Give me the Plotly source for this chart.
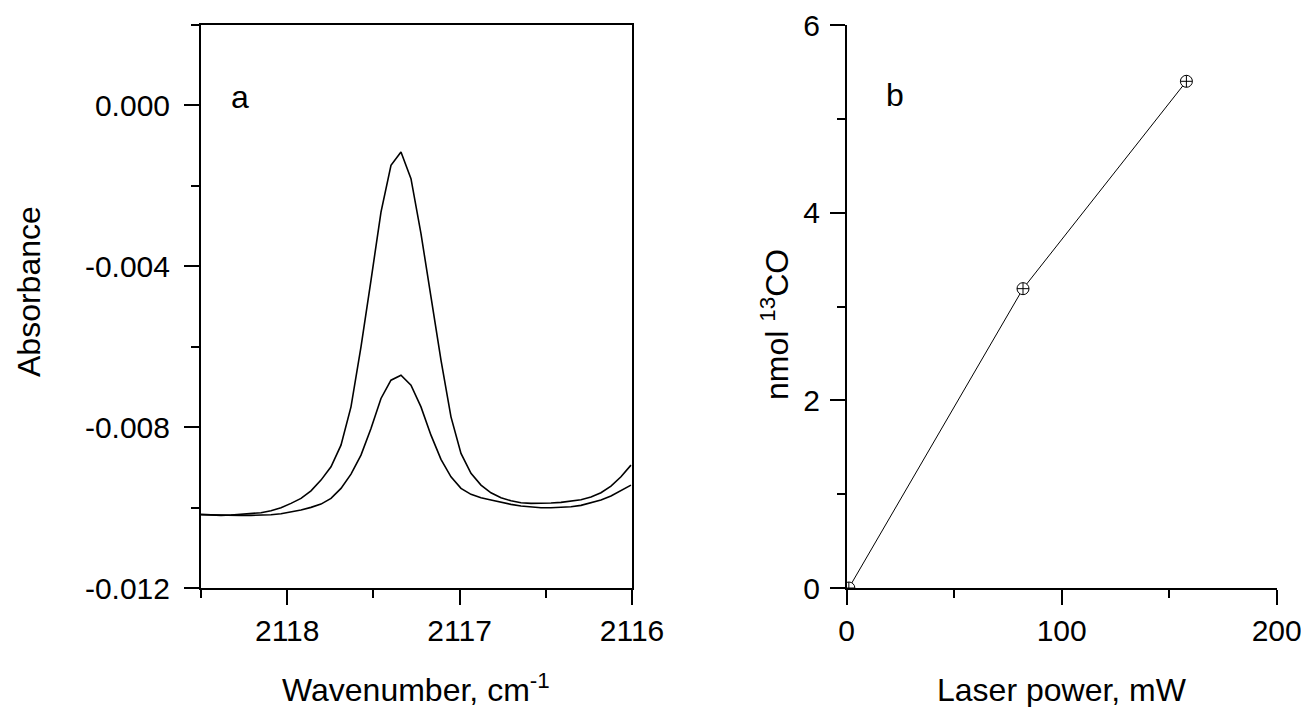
import plotly.graph_objects as go

# ---- Panel a: IR spectra ----
wavenumber = [2118.500, 2118.442, 2118.384, 2118.326, 2118.268, 2118.210, 2118.152, 2118.094,
              2118.036, 2117.978, 2117.920, 2117.862, 2117.804, 2117.746, 2117.688, 2117.630,
              2117.572, 2117.514, 2117.456, 2117.398, 2117.340, 2117.282, 2117.224, 2117.166,
              2117.108, 2117.050, 2116.992, 2116.934, 2116.876, 2116.818, 2116.760, 2116.702,
              2116.644, 2116.586, 2116.528, 2116.470, 2116.412, 2116.354, 2116.296, 2116.238,
              2116.180, 2116.122, 2116.064, 2116.006]

absorbance_high = [-0.010169, -0.010186, -0.010194, -0.010186, -0.010169, -0.010154, -0.010129, -0.010079,
                   -0.010005, -0.009896, -0.009771, -0.009583, -0.009317, -0.008986, -0.008447, -0.007496,
                   -0.006005, -0.004348, -0.002651, -0.001491, -0.001160, -0.001821, -0.003187, -0.004763,
                   -0.006335, -0.007744, -0.008653, -0.009150, -0.009441, -0.009632, -0.009756, -0.009831,
                   -0.009881, -0.009896, -0.009896, -0.009888, -0.009871, -0.009846, -0.009806, -0.009739,
                   -0.009632, -0.009466, -0.009235, -0.008944]

absorbance_low = [-0.010179, -0.010186, -0.010194, -0.010194, -0.010194, -0.010194, -0.010194, -0.010179,
                  -0.010154, -0.010112, -0.010062, -0.009995, -0.009913, -0.009771, -0.009523, -0.009168,
                  -0.008696, -0.008032, -0.007287, -0.006832, -0.006708, -0.006956, -0.007496, -0.008199,
                  -0.008802, -0.009235, -0.009523, -0.009672, -0.009756, -0.009814, -0.009871, -0.009920,
                  -0.009963, -0.009988, -0.010005, -0.010005, -0.009995, -0.009980, -0.009945, -0.009888,
                  -0.009814, -0.009714, -0.009583, -0.009441]

a_yticks = [0.000, -0.004, -0.008, -0.012]
a_yticklabels = ["0.000", "-0.004", "-0.008", "-0.012"]
a_xticks = [2118, 2117, 2116]
a_xticklabels = ["2118", "2117", "2116"]

# ---- Panel b: 13CO vs laser power ----
laser_power = [1, 82, 158]
nmol_13co = [0.0, 3.19, 5.40]
b_yticks = [0, 2, 4, 6]
b_xticks = [0, 100, 200]

FONT = "Liberation Sans, Arial, sans-serif"
TICKFS = 30
TITLEFS = 32

# page body has an 8px margin; the figure is sized to fit the window inside it
W, H, OFF = 1293, 699, 8


def px(x):
    return (x - OFF) / W


def py(y):
    return 1 - (y - OFF) / H


fig = go.Figure()

for ys in (absorbance_high, absorbance_low):
    fig.add_trace(go.Scatter(x=wavenumber, y=ys, mode="lines",
                             line=dict(color="black", width=1.6),
                             xaxis="x", yaxis="y", showlegend=False, hoverinfo="skip"))

fig.add_trace(go.Scatter(x=laser_power, y=nmol_13co, mode="lines+markers",
                         line=dict(color="black", width=1),
                         marker=dict(symbol="circle-cross", size=12, color="white",
                                     line=dict(color="black", width=1)),
                         xaxis="x2", yaxis="y2", showlegend=False, hoverinfo="skip"))

ydom = [py(588), py(25)]
common = dict(showgrid=False, zeroline=False, linecolor="black", ticks="outside",
              tickcolor="black", ticklen=15, tickwidth=1.5, automargin=False,
              ticklabeloverflow="allow",
              tickfont=dict(family=FONT, size=TICKFS, color="black"))

fig.update_layout(
    width=W, height=H,
    margin=dict(l=0, r=0, t=0, b=0, autoexpand=False),
    paper_bgcolor="white", plot_bgcolor="white",
    xaxis=dict(domain=[px(201), px(632)], range=[2118.5, 2116], anchor="y",
               tickmode="array", tickvals=a_xticks, ticktext=a_xticklabels,
               minor=dict(tickvals=[2118.5, 2117.5, 2116.5], ticks="outside", ticklen=8,
                          tickcolor="black", tickwidth=1.5),
               mirror=True, linewidth=2, **common),
    yaxis=dict(domain=ydom, range=[-0.012, 0.002], anchor="x",
               tickmode="array", tickvals=a_yticks, ticktext=a_yticklabels,
               minor=dict(tickvals=[-0.010, -0.006, -0.002, 0.002], ticks="outside", ticklen=8,
                          tickcolor="black", tickwidth=1.5),
               mirror=True, linewidth=2, ticklabelstandoff=8, **common),
    xaxis2=dict(domain=[px(846.7), px(1276.7)], range=[0, 200], anchor="y2",
                tickmode="array", tickvals=b_xticks, ticktext=[str(v) for v in b_xticks],
                minor=dict(tickvals=[50, 150], ticks="outside", ticklen=8,
                           tickcolor="black", tickwidth=1.5),
                linewidth=1.5, **common),
    yaxis2=dict(domain=ydom, range=[0, 6], anchor="x2",
                tickmode="array", tickvals=b_yticks, ticktext=[str(v) for v in b_yticks],
                minor=dict(tickvals=[1, 3, 5], ticks="outside", ticklen=8,
                           tickcolor="black", tickwidth=1.5),
                linewidth=1.5, ticklabelstandoff=4, **common),
)

ann_font = dict(family=FONT, size=TITLEFS, color="black")
fig.add_annotation(text="Absorbance", x=px(29), y=py(292), xref="paper", yref="paper",
                   textangle=-90, showarrow=False, font=ann_font, xanchor="center", yanchor="middle")
fig.add_annotation(text="Wavenumber, cm<sup>-1</sup>", x=px(416), y=py(688),
                   xref="paper", yref="paper", showarrow=False, font=ann_font,
                   xanchor="center", yanchor="middle")
fig.add_annotation(text="nmol <sup>13</sup>CO", x=px(775), y=py(325),
                   xref="paper", yref="paper", textangle=-90, showarrow=False, font=ann_font,
                   xanchor="center", yanchor="middle")
fig.add_annotation(text="Laser power, mW", x=px(1062), y=py(690),
                   xref="paper", yref="paper", showarrow=False, font=ann_font,
                   xanchor="center", yanchor="middle")
fig.add_annotation(text="a", x=px(240), y=py(97), xref="paper", yref="paper",
                   showarrow=False, font=ann_font, xanchor="center", yanchor="middle")
fig.add_annotation(text="b", x=px(895), y=py(95), xref="paper", yref="paper",
                   showarrow=False, font=ann_font, xanchor="center", yanchor="middle")

fig.write_html("out.html")
